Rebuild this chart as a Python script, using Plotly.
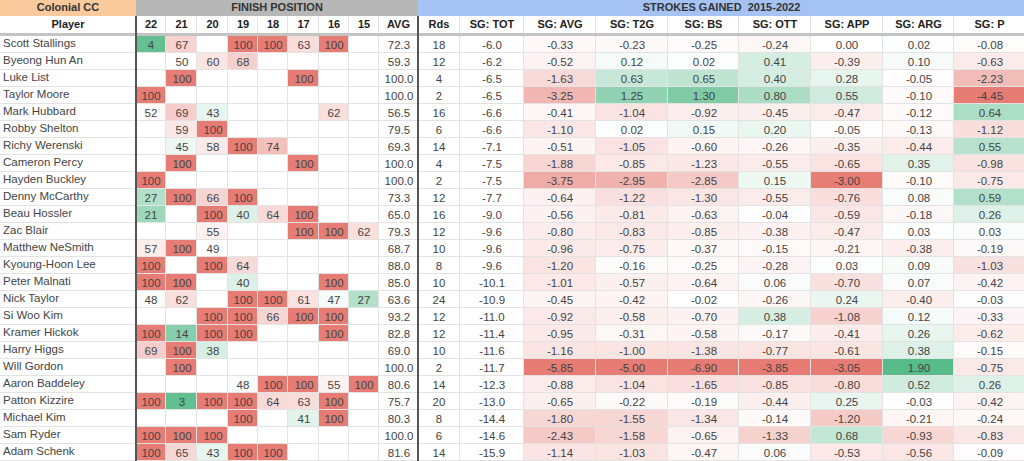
import plotly.graph_objects as go

N = None

players = [
    "Scott Stallings", "Byeong Hun An", "Luke List", "Taylor Moore", "Mark Hubbard",
    "Robby Shelton", "Richy Werenski", "Cameron Percy", "Hayden Buckley", "Denny McCarthy",
    "Beau Hossler", "Zac Blair", "Matthew NeSmith", "Kyoung-Hoon Lee", "Peter Malnati",
    "Nick Taylor", "Si Woo Kim", "Kramer Hickok", "Harry Higgs", "Will Gordon",
    "Aaron Baddeley", "Patton Kizzire", "Michael Kim", "Sam Ryder", "Adam Schenk",
]

# finish position by year (blank = did not play)
years = ["22", "21", "20", "19", "18", "17", "16", "15"]
pos_22 = [4, N, N, 100, 52, N, N, N, 100, 27, 21, N, 57, 100, 100, 48, N, 100, 69, N, N, 100, N, 100, 100]
pos_21 = [67, 50, 100, N, 69, 59, 45, 100, N, 100, N, N, 100, N, 100, 62, N, 14, 100, 100, N, 3, N, 100, 65]
pos_20 = [N, 60, N, N, 43, 100, 58, N, N, 66, 100, 55, 49, 100, N, N, 100, 100, 38, N, N, 100, N, 100, 43]
pos_19 = [100, 68, N, N, N, N, 100, N, N, 100, 40, N, N, 64, 40, 100, 100, 100, N, N, 48, 100, 100, N, 100]
pos_18 = [100, N, N, N, N, N, 74, N, N, N, 64, N, N, N, N, 100, 66, N, N, N, 100, 64, N, N, 100]
pos_17 = [63, N, 100, N, N, N, N, 100, N, N, 100, 100, N, N, N, 61, 100, N, N, N, 100, 63, 41, N, N]
pos_16 = [100, N, N, N, 62, N, N, N, N, N, N, 100, N, N, 100, 47, 100, 100, N, N, 55, 100, 100, N, N]
pos_15 = [N, N, N, N, N, N, N, N, N, N, N, 62, N, N, N, 27, N, N, N, N, 100, N, N, N, N]
finish_avg = [72.3, 59.3, 100.0, 100.0, 56.5, 79.5, 69.3, 100.0, 100.0, 73.3, 65.0, 79.3, 68.7,
              88.0, 85.0, 63.6, 93.2, 82.8, 69.0, 100.0, 80.6, 75.7, 80.3, 100.0, 81.6]

rounds = [18, 12, 4, 2, 16, 6, 14, 4, 2, 12, 16, 12, 10, 8, 10, 24, 12, 12, 10, 2, 14, 20, 8, 6, 14]
sg_tot = [-6.0, -6.2, -6.5, -6.5, -6.6, -6.6, -7.1, -7.5, -7.5, -7.7, -9.0, -9.6, -9.6, -9.6,
          -10.1, -10.9, -11.0, -11.4, -11.6, -11.7, -12.3, -13.0, -14.4, -14.6, -15.9]
sg_avg = [-0.33, -0.52, -1.63, -3.25, -0.41, -1.10, -0.51, -1.88, -3.75, -0.64, -0.56, -0.80, -0.96,
          -1.20, -1.01, -0.45, -0.92, -0.95, -1.16, -5.85, -0.88, -0.65, -1.80, -2.43, -1.14]
sg_t2g = [-0.23, 0.12, 0.63, 1.25, -1.04, 0.02, -1.05, -0.85, -2.95, -1.22, -0.81, -0.83, -0.75,
          -0.16, -0.57, -0.42, -0.58, -0.31, -1.00, -5.00, -1.04, -0.22, -1.55, -1.58, -1.03]
sg_bs = [-0.25, 0.02, 0.65, 1.30, -0.92, 0.15, -0.60, -1.23, -2.85, -1.30, -0.63, -0.85, -0.37,
         -0.25, -0.64, -0.02, -0.70, -0.58, -1.38, -6.90, -1.65, -0.19, -1.34, -0.65, -0.47]
sg_ott = [-0.24, 0.41, 0.40, 0.80, -0.45, 0.20, -0.26, -0.55, 0.15, -0.55, -0.04, -0.38, -0.15,
          -0.28, 0.06, -0.26, 0.38, -0.17, -0.77, -3.85, -0.85, -0.44, -0.14, -1.33, 0.06]
sg_app = [0.00, -0.39, 0.28, 0.55, -0.47, -0.05, -0.35, -0.65, -3.00, -0.76, -0.59, -0.47, -0.21,
          0.03, -0.70, 0.24, -1.08, -0.41, -0.61, -3.05, -0.80, 0.25, -1.20, 0.68, -0.53]
sg_arg = [0.02, 0.10, -0.05, -0.10, -0.12, -0.13, -0.44, 0.35, -0.10, 0.08, -0.18, 0.03, -0.38,
          0.09, 0.07, -0.40, 0.12, 0.26, 0.38, 1.90, 0.52, -0.03, -0.21, -0.93, -0.56]
sg_p = [-0.08, -0.63, -2.23, -4.45, 0.64, -1.12, 0.55, -0.98, -0.75, 0.59, 0.26, 0.03, -0.19,
        -1.03, -0.42, -0.03, -0.33, -0.62, -0.15, -0.75, 0.26, -0.42, -0.24, -0.83, -0.09]

sg_names = ["SG: AVG", "SG: T2G", "SG: BS", "SG: OTT", "SG: APP", "SG: ARG", "SG: P"]
sg_cols = [sg_avg, sg_t2g, sg_bs, sg_ott, sg_app, sg_arg, sg_p]
groups = ["Colonial CC", "FINISH POSITION", "STROKES GAINED  2015-2022"]

# --- styling / geometry (pixel units) ---
W, H = 1024, 461
TOP = 16      # group header row
HEAD = 20     # column header row (incl. grey bar)
ROW = 17
FONT = "Liberation Sans, Arial, sans-serif"
TXT = "#444444"
GRID = "#e3e3e3"
widths = [136, 30, 31, 31, 30, 30, 31, 30, 30, 39, 42, 64, 72, 72, 71, 72, 72, 71, 71]
group_span = [(0, 1), (1, 10), (10, 19)]  # column index ranges of the group headers
group_colors = ["#f9cb9c", "#b7b7b7", "#a4c2f4"]

# colour scale limits per SG column (value at full red / full green)
sg_lo = [-5.85, -5.0, -6.9, -3.85, -3.05, -3.0, -4.45]
sg_hi = [1.9, 1.9, 1.7, 1.6, 1.9, 1.9, 1.3]

x_edges = [sum(widths[:i]) for i in range(len(widths) + 1)]
x_mid = [(a + b) / 2 for a, b in zip(x_edges[:-1], x_edges[1:])]
y_edges = [TOP, TOP + HEAD] + [TOP + HEAD + ROW * (i + 1) for i in range(len(players))]
y_mid = [(a + b) / 2 for a, b in zip(y_edges[1:-1], y_edges[2:])]

pos_cols = [pos_22, pos_21, pos_20, pos_19, pos_18, pos_17, pos_16, pos_15]
headers = ["Player"] + years + ["AVG", "Rds", "SG: TOT"] + sg_names


def clip(t):
    return max(-1.0, min(1.0, t))


# build columns of (shade, label); shade -1 = red, 0 = white, 1 = green
cols_z, cols_txt = [], []
cols_z.append([0] * len(players))
cols_txt.append([""] * len(players))  # names drawn separately (left aligned)
for col in pos_cols:
    cols_z.append([0 if v is None else clip((50 - v) / 50) for v in col])
    cols_txt.append(["" if v is None else str(v) for v in col])
cols_z += [[0] * len(players)] * 3
cols_txt.append([f"{v:.1f}" for v in finish_avg])
cols_txt.append([str(v) for v in rounds])
cols_txt.append([f"{v:.1f}" for v in sg_tot])
for col, lo, hi in zip(sg_cols, sg_lo, sg_hi):
    cols_z.append([clip(v / hi) if v > 0 else clip(-v / lo) for v in col])
    cols_txt.append([f"{v:.2f}" for v in col])

# header row (white) + data rows
z = [[0] * len(widths)] + [list(r) for r in zip(*cols_z)]
txt = [[""] * len(widths)] + [list(r) for r in zip(*cols_txt)]

fig = go.Figure()

# group header band
fig.add_trace(go.Heatmap(
    x=[x_edges[a] for a, _ in group_span] + [x_edges[-1]],
    y=[0, TOP],
    z=[[0, 1, 2]],
    zmin=0, zmax=2,
    colorscale=[[0, group_colors[0]], [0.5, group_colors[1]], [1, group_colors[2]]],
    showscale=False, hoverinfo="skip",
))

fig.add_trace(go.Heatmap(
    x=x_edges, y=y_edges, z=z, text=txt,
    texttemplate="%{text}",
    textfont=dict(family=FONT, size=11.5, color=TXT),
    zmin=-1, zmax=1,
    colorscale=[[0, "#e67c73"], [0.5, "#ffffff"], [1, "#57bb8a"]],
    xgap=1, ygap=1, showscale=False,
    hovertemplate="%{text}<extra></extra>",
))

# player names
fig.add_trace(go.Scatter(
    x=[x_edges[0] + 3] * len(players), y=y_mid, text=players,
    mode="text", textposition="middle right",
    textfont=dict(family=FONT, size=11.5, color=TXT),
    hoverinfo="skip",
))

# column headers
fig.add_trace(go.Scatter(
    x=x_mid, y=[TOP + 9] * len(headers), text=[f"<b>{h}</b>" for h in headers],
    mode="text", textposition="middle center",
    textfont=dict(family=FONT, size=11, color="#222222"),
    hoverinfo="skip",
))

# group header labels
fig.add_trace(go.Scatter(
    x=[(x_edges[a] + x_edges[b]) / 2 for a, b in group_span], y=[TOP / 2] * 3,
    text=[f"<b>{g}</b>" for g in groups],
    mode="text", textposition="middle center",
    textfont=dict(family=FONT, size=11, color="#333333"),
    hoverinfo="skip",
))

# grey bar under headers, dark separators between blocks
shapes = [dict(type="rect", x0=0, x1=W, y0=TOP + HEAD - 3, y1=TOP + HEAD,
               fillcolor="#c4c4c4", line_width=0, layer="above")]
for i in (1, 10):
    shapes.append(dict(type="line", x0=x_edges[i], x1=x_edges[i], y0=TOP, y1=H,
                       line=dict(color="#555555", width=2), layer="above"))

fig.update_layout(
    width=W, height=H,
    margin=dict(l=0, r=0, t=0, b=0),
    paper_bgcolor="white",
    plot_bgcolor=GRID,
    showlegend=False,
    shapes=shapes,
    xaxis=dict(range=[0, W], visible=False, fixedrange=True),
    yaxis=dict(range=[H, 0], visible=False, fixedrange=True),
)

fig.write_html("out.html", config={"displayModeBar": False},
               post_script="document.body.style.margin='0px';")
